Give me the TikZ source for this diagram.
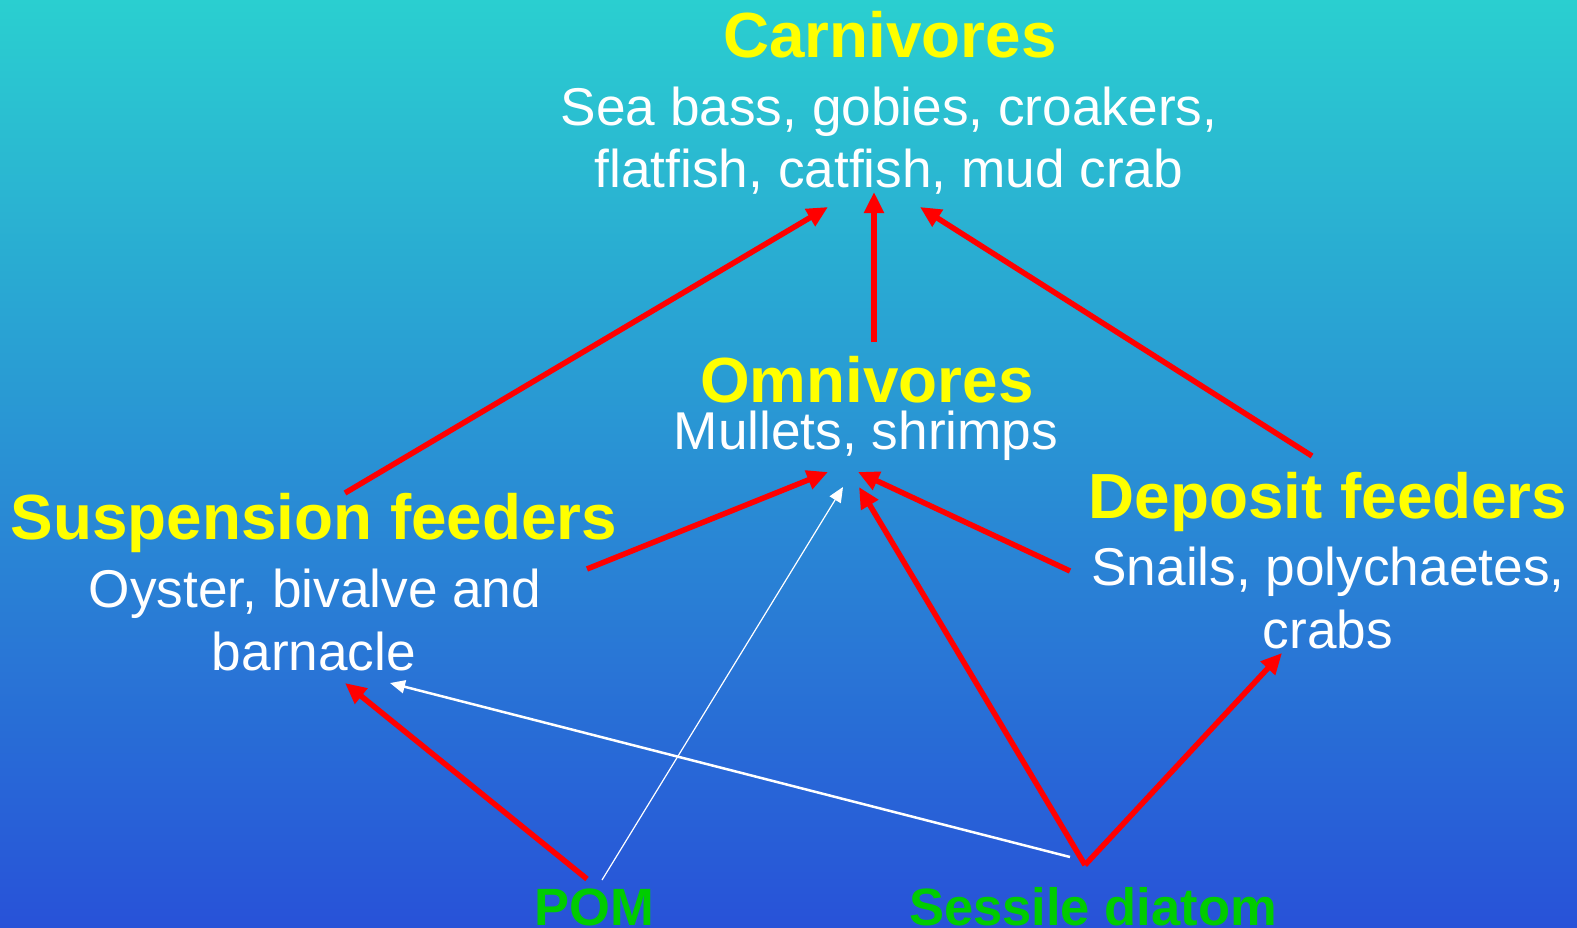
\documentclass[tikz,border=0pt]{standalone}
\usepackage{fontspec}
\setmainfont{Liberation Sans}
\usetikzlibrary{arrows.meta}
\definecolor{bgtop}{RGB}{42,207,208}
\definecolor{bgbot}{RGB}{40,82,216}
\definecolor{hdyellow}{RGB}{255,255,0}
\definecolor{srcgreen}{RGB}{0,204,0}
\definecolor{arrred}{RGB}{255,0,0}
\tikzset{
  head/.style={font=\bfseries\fontsize{63.8}{63.8}\selectfont, text=hdyellow, anchor=base, inner sep=0pt},
  desc/.style={font=\fontsize{53.2}{53.2}\selectfont, text=white, anchor=base, inner sep=0pt},
  src/.style={font=\bfseries\fontsize{52.5}{52.5}\selectfont, text=srcgreen, anchor=base, inner sep=0pt},
  feed/.style={draw=arrred, line width=5.5pt, -{Triangle[length=21pt,width=19pt]}},
  thinflow/.style={draw=white, -{Triangle[length=15pt,width=13pt]}}
}
\begin{document}
\begin{tikzpicture}[x=1pt,y=-1pt]
\useasboundingbox (0,0) rectangle (1577,927);
\shade[top color=bgtop, bottom color=bgbot] (0,0) rectangle (1577,927);

% text nodes
\node[head] (carn) at (890,57) {Carnivores};
\node[desc] (carn1) at (889,125) {Sea bass, gobies, croakers,};
\node[desc] (carn2) at (889,187) {flatfish, catfish, mud crab};
\node[head] (omni) at (867,402) {Omnivores};
\node[desc] (omni1) at (866,449) {Mullets, shrimps};
\node[head] (susp) at (314,539) {Suspension feeders};
\node[desc] (susp1) at (315,607) {Oyster, bivalve and};
\node[desc] (susp2) at (314,670) {barnacle};
\node[head] (depo) at (1328,518) {Deposit feeders};
\node[desc] (depo1) at (1328,585) {Snails, polychaetes,};
\node[desc] (depo2) at (1328,648) {crabs};
\node[src] (pom) at (594,925) {POM};
\node[src] (diat) at (1093,925) {Sessile diatom};

% connector end points
\coordinate (carnL) at (828,207);
\coordinate (carnM) at (874,192);
\coordinate (carnR) at (920,207);
\coordinate (omniL) at (828,472);
\coordinate (omniR) at (858,472);
\coordinate (omniW) at (843,487);
\coordinate (omniD) at (859,487);
\coordinate (suspOut) at (345,493);
\coordinate (suspSide) at (587,569);
\coordinate (suspIn) at (345,683);
\coordinate (suspW) at (390,683);
\coordinate (omniOut) at (874,342);
\coordinate (depoOut) at (1312,456);
\coordinate (depoSide) at (1070,571);
\coordinate (depoIn) at (1282,653);
\coordinate (pomR) at (587,879);
\coordinate (pomW) at (602,880);
\coordinate (diatR) at (1085,865);
\coordinate (diatW) at (1070,857);

% red feeding links
\draw[feed] (suspOut) -- (carnL);
\draw[feed] (omniOut) -- (carnM);
\draw[feed] (depoOut) -- (carnR);
\draw[feed] (suspSide) -- (omniL);
\draw[feed] (depoSide) -- (omniR);
\draw[feed] (diatR) -- (omniD);
\draw[feed] (diatR) -- (depoIn);
\draw[feed] (pomR) -- (suspIn);

% white minor links
\draw[thinflow, line width=1.2pt] (pomW) -- (omniW);
\draw[thinflow, line width=2.5pt] (diatW) -- (suspW);
\end{tikzpicture}
\end{document}
